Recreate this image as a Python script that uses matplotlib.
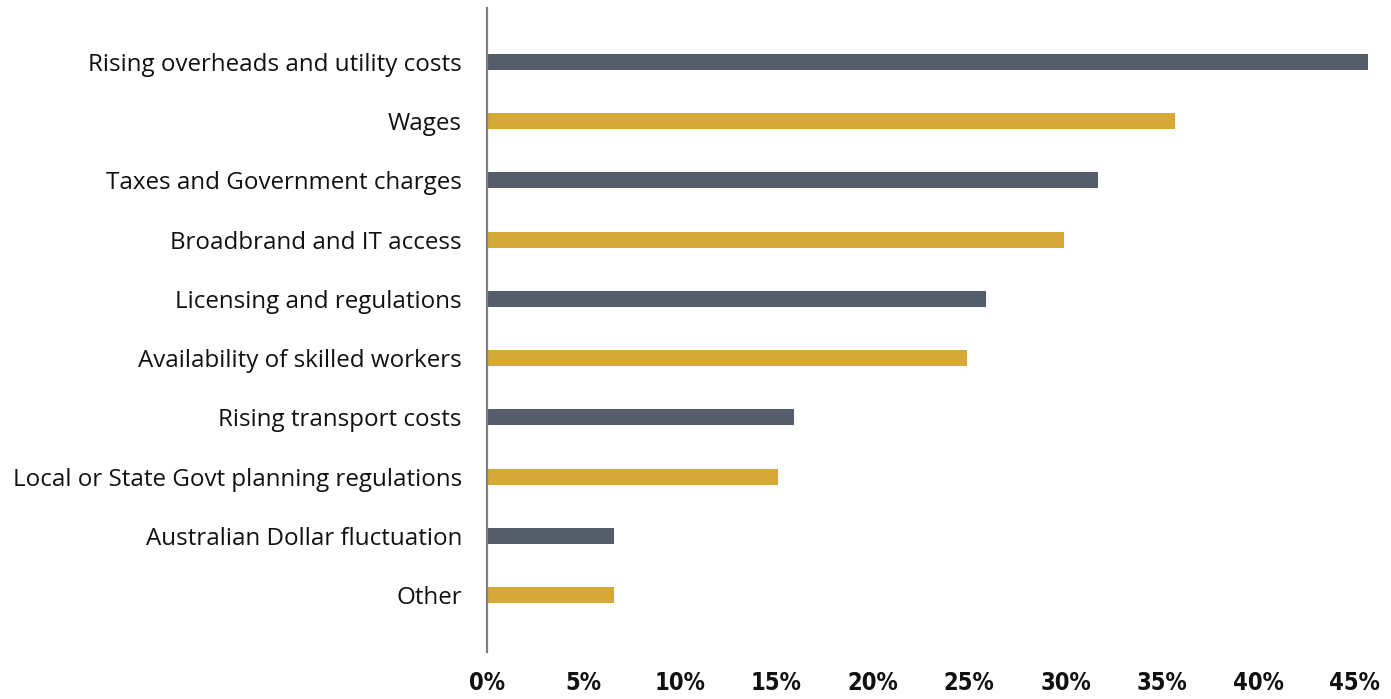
import matplotlib
matplotlib.use("Agg")
import matplotlib.pyplot as plt
import numpy as np

# ===== DATA =====
categories = [
    "Rising overheads and utility costs",
    "Wages",
    "Taxes and Government charges",
    "Broadbrand and IT access",
    "Licensing and regulations",
    "Availability of skilled workers",
    "Rising transport costs",
    "Local or State Govt planning regulations",
    "Australian Dollar fluctuation",
    "Other",
]
values = [45.7, 35.7, 31.7, 29.9, 25.9, 24.9, 15.9, 15.1, 6.6, 6.6]
x_ticks = [0, 5, 10, 15, 20, 25, 30, 35, 40, 45]
tick_labels = [f"{t}%" for t in x_ticks]

DARK = "#555d6a"
GOLD = "#d5a938"

W, H = 1391, 699
fig = plt.figure(figsize=(W / 100, H / 100), dpi=100)
left, right, top, bottom = 487, 1378, 8, 652
ax = fig.add_axes([left / W, 1 - bottom / H, (right - left) / W, (bottom - top) / H])

y = np.arange(len(categories))
colors = [DARK if i % 2 == 0 else GOLD for i in range(len(categories))]
ax.barh(y, values, height=0.27, color=colors)

ax.set_xlim(0, 46.2)
ax.set_ylim(9.96, -0.91)

for s in ["top", "right", "bottom"]:
    ax.spines[s].set_visible(False)
ax.spines["left"].set_color("#808080")
ax.spines["left"].set_linewidth(1.6)

ax.set_yticks(y)
ax.set_yticklabels(categories, fontsize=17.4, family="Open Sans", color="#111111")
ax.tick_params(axis="y", length=0, pad=18)

ax.set_xticks(x_ticks)
ax.set_xticklabels(tick_labels, fontsize=17, fontweight="bold",
                   family="DejaVu Sans", fontstretch="condensed", color="#111111")
ax.tick_params(axis="x", length=0, pad=14)

fig.savefig("out.png", dpi=100)
